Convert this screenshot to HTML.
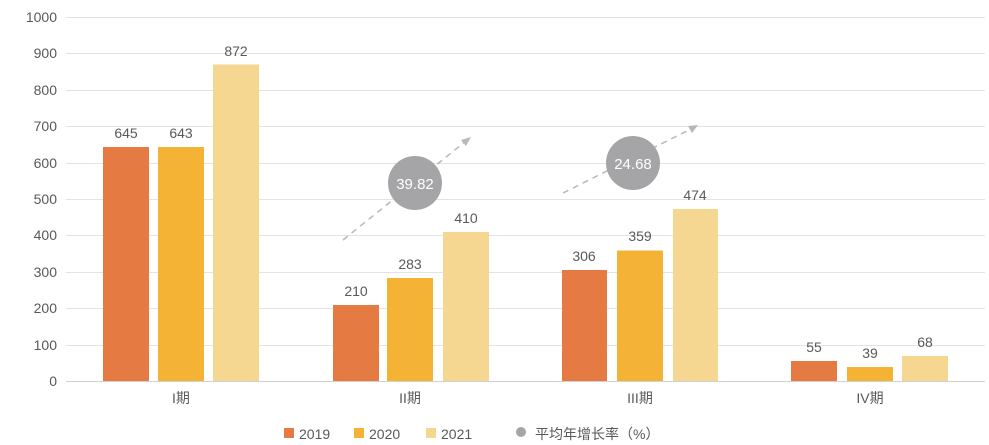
<!DOCTYPE html>
<html><head><meta charset="utf-8"><style>body{margin:0;background:#fff}svg{display:block}text{font-family:"Liberation Sans","Noto Sans CJK SC",sans-serif;fill:#595959}</style></head><body>
<svg width="989" height="445" viewBox="0 0 989 445">
<g stroke="#e3e3e3" stroke-width="1">
<line x1="66" x2="985" y1="17.5" y2="17.5"/><line x1="66" x2="985" y1="53.5" y2="53.5"/><line x1="66" x2="985" y1="90.5" y2="90.5"/><line x1="66" x2="985" y1="126.5" y2="126.5"/><line x1="66" x2="985" y1="163.5" y2="163.5"/><line x1="66" x2="985" y1="199.5" y2="199.5"/><line x1="66" x2="985" y1="235.5" y2="235.5"/><line x1="66" x2="985" y1="272.5" y2="272.5"/><line x1="66" x2="985" y1="308.5" y2="308.5"/><line x1="66" x2="985" y1="345.5" y2="345.5"/>
</g>
<line x1="66" x2="985" y1="381.5" y2="381.5" stroke="#d0d0d0"/>
<g font-size="14" text-anchor="end">
<text x="57" y="22">1000</text><text x="57" y="58">900</text><text x="57" y="95">800</text><text x="57" y="131">700</text><text x="57" y="168">600</text><text x="57" y="204">500</text><text x="57" y="240">400</text><text x="57" y="277">300</text><text x="57" y="313">200</text><text x="57" y="350">100</text><text x="57" y="386">0</text>
</g>
<g>
<rect x="103" y="147" width="46" height="234" fill="#E57A43"/><rect x="158" y="147" width="46" height="234" fill="#F4B334"/><rect x="213" y="64.5" width="46" height="316.5" fill="#F6D792"/>
<rect x="333" y="305" width="46" height="76" fill="#E57A43"/><rect x="387" y="278" width="46" height="103" fill="#F4B334"/><rect x="443" y="232" width="46" height="149" fill="#F6D792"/>
<rect x="562" y="270" width="45" height="111" fill="#E57A43"/><rect x="617" y="250.5" width="46" height="130.5" fill="#F4B334"/><rect x="673" y="209" width="45" height="172" fill="#F6D792"/>
<rect x="791" y="361" width="46" height="20" fill="#E57A43"/><rect x="847" y="367" width="46" height="14" fill="#F4B334"/><rect x="902" y="356" width="46" height="25" fill="#F6D792"/>
</g>
<g font-size="14" text-anchor="middle">
<text x="126" y="138">645</text><text x="181" y="138">643</text><text x="236" y="56">872</text>
<text x="356" y="296">210</text><text x="410" y="269">283</text><text x="466" y="223">410</text>
<text x="584" y="261">306</text><text x="640" y="241">359</text><text x="695" y="200">474</text>
<text x="814" y="352">55</text><text x="870" y="358">39</text><text x="925" y="347">68</text>
<text x="181" y="403">I期</text><text x="410" y="403">II期</text><text x="640" y="403">III期</text><text x="870" y="403">IV期</text>
</g>
<g stroke="#b8b8b8" stroke-width="1.5" stroke-dasharray="6,5" fill="none">
<line x1="343" y1="240" x2="466" y2="141"/><line x1="563" y1="193" x2="693" y2="128"/>
</g>
<polygon points="471,137 461,140 466,146" fill="#b8b8b8"/>
<polygon points="698,125 688,126 692,133" fill="#b8b8b8"/>
<circle cx="415" cy="183" r="27" fill="#a5a5a7"/><text x="415" y="189" font-size="15" text-anchor="middle" style="fill:#fff">39.82</text>
<circle cx="633" cy="163" r="27" fill="#a5a5a7"/><text x="633" y="169" font-size="15" text-anchor="middle" style="fill:#fff">24.68</text>
<g font-size="14">
<rect x="284" y="428" width="10" height="10" fill="#E57A43"/><text x="299" y="439">2019</text>
<rect x="354" y="428" width="10" height="10" fill="#F4B334"/><text x="369" y="439">2020</text>
<rect x="426" y="428" width="10" height="10" fill="#F6D792"/><text x="441" y="439">2021</text>
<circle cx="521" cy="432" r="5" fill="#a5a5a7"/><text x="535" y="439">平均年增长率（%）</text>
</g>
</svg>
</body></html>
